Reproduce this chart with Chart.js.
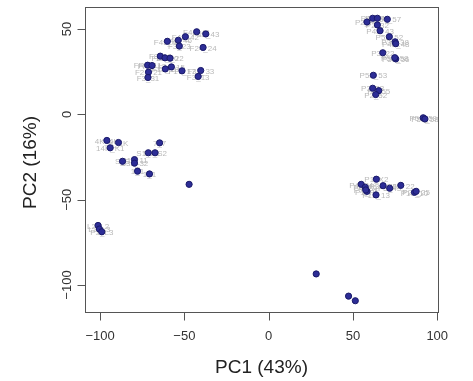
<!DOCTYPE html>
<html>
<head>
<meta charset="utf-8">
<script src="https://cdn.jsdelivr.net/npm/chart.js@4/dist/chart.umd.min.js"></script>
<style>
html,body{margin:0;padding:0;background:#fff;}
#wrap{width:473px;height:381px;position:relative;}
</style>
</head>
<body>
<div id="wrap"><canvas id="c" width="473" height="381"></canvas></div>
<script>
const pc1 = [
  -42.7,-37.3,-49.4,-60.1,-53.6,-53.0,-38.9,-64.3,-61.5,-58.5,-71.8,-69.2,-61.3,-57.7,-51.4,-40.3,-41.8,-71.3,-71.6,
  -96.0,-89.1,-94.0,-64.7,-71.4,-67.4,-86.7,-79.6,-79.6,-77.8,-70.7,-47.2,-101.2,-100.4,-99.0,
  58.3,61.7,64.5,70.4,64.5,66.1,71.6,75.0,75.4,67.7,75.4,74.8,62.1,61.7,65.3,63.5,91.7,92.7,
  63.9,54.9,57.3,58.3,57.6,67.9,71.8,78.4,63.7,86.5,87.5,28.2,47.4,51.4
];
const pc2 = [
  48.4,47.1,45.5,42.8,43.4,40.0,39.2,34.1,33.1,32.9,28.8,28.6,26.6,27.8,25.5,25.7,22.2,24.7,21.6,
  -15.3,-16.5,-19.6,-16.7,-22.5,-22.5,-27.5,-26.5,-28.6,-33.3,-34.9,-41.0,-65.1,-67.2,-68.8,
  54.1,56.3,56.3,55.7,52.4,49.0,45.5,42.5,41.4,36.1,32.5,33.2,22.9,15.3,13.9,11.6,-2.0,-2.7,
  -38.0,-41.0,-42.7,-45.1,-44.3,-41.8,-43.3,-41.6,-47.2,-45.7,-45.1,-93.5,-106.5,-109.2
];
const sampleLabels = [
  "F41_41","F43_43","F42_42","F45_45","F46_46","F3_23","F24_24","F8_18","F20_20","F22_22","FR1_11","FR2_12","F18_18","F15_15","F17_17","F33_33","F3_13","F21_21","F3_31",
  "4K_4K","K_1K","14K_K1","7_7","S1_S1","S2_S2","S_S","S11_11","S32_32","1_1","1_1","","L2_L2","L3_L3","P3_L3",
  "P2_P2","P4_P4","P5_P5","P57_57","P2_32","P43_43","P52_52","P38_38","P48_48","P3_22","P56_56","P58_58","P53_53","P3_33","P5_55","P2_52","P59_59","P58_58",
  "P1_X2","P4_P4","P6_P6","P1_P1","P7_P7","P36_36","P3_43","P22_22","P13_13","P10_10","P25_25","","",""
];
const xTicks = [-100,-50,0,50,100];
const yTicks = [-100,-50,0,50];
const xTitle = "PC1 (43%)";
const yTitle = "PC2 (16%)";

const points = pc1.map((x,i)=>({x:x,y:pc2[i]}));

const rStyle = {
  id:'rStyle',
  beforeDatasetsDraw(chart){
    const ctx = chart.ctx, xs = chart.scales.x, ys = chart.scales.y;
    ctx.save();
    ctx.font = '8px "Liberation Sans", Arial, sans-serif';
    ctx.fillStyle = 'rgb(185,185,185)';
    ctx.textAlign = 'center';
    ctx.textBaseline = 'middle';
    sampleLabels.forEach((t,i)=>{
      if(!t) return;
      ctx.fillText(t, xs.getPixelForValue(pc1[i]), ys.getPixelForValue(pc2[i])+1);
    });
    ctx.restore();
  },
  afterDraw(chart){
    const ctx = chart.ctx, a = chart.chartArea, xs = chart.scales.x, ys = chart.scales.y;
    ctx.save();
    ctx.strokeStyle = '#555';
    ctx.lineWidth = 1;
    ctx.strokeRect(Math.round(a.left)+0.5, Math.round(a.top)+0.5, Math.round(a.right-a.left), Math.round(a.bottom-a.top));
    ctx.fillStyle = '#333';
    ctx.font = '13px "Liberation Sans", Arial, sans-serif';
    const xb = Math.round(a.bottom)+0.5;
    ctx.beginPath();
    const x0 = Math.round(xs.getPixelForValue(xTicks[0]))+0.5;
    const x1 = Math.round(xs.getPixelForValue(xTicks[xTicks.length-1]))+0.5;
    ctx.moveTo(x0, xb); ctx.lineTo(x1, xb);
    xTicks.forEach(v=>{
      const px = Math.round(xs.getPixelForValue(v))+0.5;
      ctx.moveTo(px, xb); ctx.lineTo(px, xb+8);
    });
    ctx.stroke();
    ctx.textAlign='center'; ctx.textBaseline='middle';
    xTicks.forEach(v=>{
      ctx.fillText(String(v).replace('-','\u2212'), xs.getPixelForValue(v), 336);
    });
    const yl = Math.round(a.left)+0.5;
    ctx.beginPath();
    const y0 = Math.round(ys.getPixelForValue(yTicks[0]))+0.5;
    const y1 = Math.round(ys.getPixelForValue(yTicks[yTicks.length-1]))+0.5;
    ctx.moveTo(yl, y0); ctx.lineTo(yl, y1);
    yTicks.forEach(v=>{
      const py = Math.round(ys.getPixelForValue(v))+0.5;
      ctx.moveTo(yl, py); ctx.lineTo(yl-8, py);
    });
    ctx.stroke();
    yTicks.forEach(v=>{
      ctx.save();
      ctx.translate(67, ys.getPixelForValue(v));
      ctx.rotate(-Math.PI/2);
      ctx.fillText(String(v).replace('-','\u2212'), 0, 0);
      ctx.restore();
    });
    ctx.fillStyle = '#222';
    ctx.font = '19px "Liberation Sans", Arial, sans-serif';
    ctx.fillText(xTitle, (a.left+a.right)/2, 368);
    ctx.save();
    ctx.translate(31, (a.top+a.bottom)/2 + 3);
    ctx.rotate(-Math.PI/2);
    ctx.fillText(yTitle, 0, 0);
    ctx.restore();
    ctx.restore();
  }
};

new Chart(document.getElementById('c'), {
  type:'scatter',
  data:{datasets:[{
    data: points,
    backgroundColor:'rgb(45,45,150)',
    borderColor:'rgb(25,25,105)',
    borderWidth:1,
    pointRadius:3.1,
    pointHoverRadius:3.1
  }]},
  options:{
    responsive:false,
    animation:false,
    devicePixelRatio:1,
    layout:{padding:{left:85,right:35,top:7,bottom:69}},
    plugins:{legend:{display:false},tooltip:{enabled:false}},
    scales:{
      x:{type:'linear',min:-108.96,max:100.46,display:false},
      y:{type:'linear',min:-115.8,max:62.9,display:false}
    }
  },
  plugins:[rStyle]
});
</script>
</body>
</html>
